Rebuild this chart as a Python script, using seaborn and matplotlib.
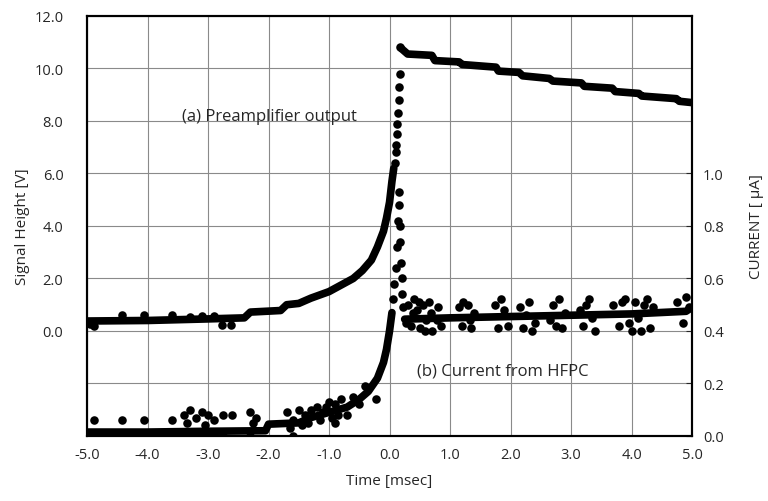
import matplotlib
matplotlib.use("Agg")
import matplotlib.pyplot as plt
import seaborn as sns

# (a) preamplifier output, left axis [V] - dense backbone of the trace
t_pre = [-5.0, -4.0, -3.0, -2.4, -2.3, -1.8, -1.7, -1.5, -1.3, -1.0, -0.8, -0.6,
         -0.45, -0.3, -0.2, -0.1, -0.05, 0.0, 0.04, 0.07]
v_pre = [0.38, 0.4, 0.46, 0.5, 0.72, 0.78, 1.0, 1.05, 1.25, 1.5, 1.75, 2.0,
         2.3, 2.7, 3.2, 3.8, 4.3, 4.9, 5.7, 6.2]
# sparse dots on the fast edge
t_pre_edge = [0.09, 0.10, 0.11, 0.12, 0.13, 0.14, 0.15, 0.16, 0.17, 0.18]
v_pre_edge = [6.4, 6.8, 7.1, 7.5, 7.9, 8.3, 8.8, 9.3, 9.8, 10.8]
# stepped decay after the peak
t_dec = [0.2, 0.3, 0.7, 0.75, 1.15, 1.2, 1.76, 1.8, 2.14, 2.2, 2.64, 2.7,
         3.17, 3.22, 3.68, 3.73, 4.12, 4.17, 4.74, 4.79, 5.0]
v_dec = [10.75, 10.55, 10.5, 10.3, 10.25, 10.15, 10.05, 9.9, 9.85, 9.72, 9.62, 9.52,
         9.45, 9.32, 9.25, 9.12, 9.05, 8.95, 8.85, 8.75, 8.7]
t_pre_out = [-4.42, -4.06, -3.6, -2.77, -2.62, -4.95, -4.88, -3.3, -3.1, -2.9]
v_pre_out = [0.62, 0.62, 0.62, 0.22, 0.22, 0.25, 0.2, 0.55, 0.58, 0.56]

# (b) current from HFPC, right axis [uA]
t_cur = [-5.0, -4.0, -3.0, -2.05, -2.0, -1.5, -1.3, -1.0, -0.7, -0.5, -0.35,
         -0.2, -0.1, -0.05, 0.0, 0.04]
i_cur = [0.015, 0.015, 0.018, 0.02, 0.045, 0.05, 0.07, 0.09, 0.11, 0.14, 0.17,
         0.22, 0.28, 0.33, 0.40, 0.47]
t_spike = [0.06, 0.08, 0.10, 0.12, 0.14, 0.15, 0.16, 0.17, 0.18, 0.19, 0.20, 0.21, 0.22]
i_spike = [0.52, 0.58, 0.64, 0.72, 0.82, 0.93, 0.88, 0.80, 0.74, 0.66, 0.60, 0.54, 0.49]
t_band = [0.25, 1.0, 2.0, 3.0, 4.0, 4.9, 5.0]
i_band = [0.445, 0.45, 0.455, 0.46, 0.465, 0.475, 0.49]
t_noise = [0.3, 0.35, 0.4, 0.45, 0.5, 0.55, 0.6, 0.65, 0.7, 0.8, 0.85,
           0.28, 0.38, 0.48, 0.58, 0.68, 0.78,
           1.15, 1.2, 1.3, 1.35, 1.4, 1.22, 1.33,
           1.75, 1.8, 1.9, 1.95, 1.85,
           2.15, 2.2, 2.3, 2.4, 2.25, 2.35,
           2.65, 2.7, 2.8, 2.85, 2.9, 2.75,
           3.15, 3.2, 3.3, 3.4, 3.25, 3.35,
           3.7, 3.8, 3.9, 4.0, 4.05, 4.1, 4.2, 4.3, 4.35, 3.85, 3.95, 4.15, 4.25,
           4.75, 4.85, 4.95, 4.9]
i_noise = [0.50, 0.42, 0.52, 0.48, 0.41, 0.50, 0.44, 0.51, 0.40, 0.49, 0.42,
           0.43, 0.47, 0.51, 0.40, 0.47, 0.44,
           0.49, 0.42, 0.50, 0.41, 0.47, 0.51, 0.44,
           0.50, 0.41, 0.48, 0.42, 0.52,
           0.49, 0.41, 0.51, 0.43, 0.46, 0.40,
           0.44, 0.50, 0.52, 0.41, 0.47, 0.42,
           0.48, 0.42, 0.52, 0.40, 0.50, 0.45,
           0.50, 0.42, 0.52, 0.40, 0.51, 0.45, 0.50, 0.41, 0.49, 0.51, 0.43, 0.40, 0.52,
           0.51, 0.43, 0.49, 0.53]
t_base_noise = [-4.88, -4.42, -4.06, -3.6, -3.4, -3.3, -3.2, -3.1, -3.0, -2.9, -2.75,
                -2.6, -2.3, -2.2, -1.7, -1.6, -1.5, -1.4, -1.2, -1.1, -1.0, -0.9,
                -0.8, -0.7, -0.9, -0.22, -3.2, -2.75, -2.3, -1.6, -4.95,
                -3.35, -3.05, -2.25, -1.65, -1.45, -1.3, -1.15, -0.95, -0.85,
                -0.6, -0.5, -0.4, -1.35, -1.05]
i_base_noise = [0.06, 0.06, 0.06, 0.06, 0.08, 0.10, 0.07, 0.09, 0.08, 0.06, 0.08,
                0.08, 0.09, 0.07, 0.09, 0.06, 0.10, 0.08, 0.11, 0.09, 0.13, 0.12,
                0.14, 0.08, 0.05, 0.14, 0.0, 0.0, 0.0, 0.0, 0.0,
                0.05, 0.04, 0.05, 0.03, 0.04, 0.10, 0.06, 0.07, 0.08,
                0.15, 0.12, 0.19, 0.05, 0.11]

sns.set_style("white")
plt.rcParams["font.family"] = ["Open Sans", "DejaVu Sans"]

fig = plt.figure(figsize=(7.68, 5.02), dpi=100)
ax = fig.add_axes([0.1133, 0.1295, 0.7878, 0.8367])
ax2 = ax.twinx()

lw = 5.5
ms = 38
sns.lineplot(x=t_pre, y=v_pre, ax=ax, color="black", lw=lw, sort=False,
             solid_capstyle="round")
sns.lineplot(x=t_dec, y=v_dec, ax=ax, color="black", lw=lw, sort=False,
             solid_capstyle="round")
sns.scatterplot(x=t_pre_edge + t_pre_out, y=v_pre_edge + v_pre_out, ax=ax,
                color="black", s=ms, linewidth=0)

sns.lineplot(x=t_cur, y=i_cur, ax=ax2, color="black", lw=lw, sort=False,
             solid_capstyle="round")
sns.lineplot(x=t_band, y=i_band, ax=ax2, color="black", lw=lw, sort=False,
             solid_capstyle="round")
sns.scatterplot(x=t_spike + t_noise + t_base_noise, y=i_spike + i_noise + i_base_noise,
                ax=ax2, color="black", s=ms, linewidth=0)

ax.set_xlim(-5, 5)
ax.set_ylim(-4, 12)
ax2.set_ylim(0, 1.6)

ax.set_xticks([-5, -4, -3, -2, -1, 0, 1, 2, 3, 4, 5])
ax.set_xticklabels([f"{v:.1f}" for v in range(-5, 6)])
ax.set_yticks([-4, -2, 0, 2, 4, 6, 8, 10, 12])
ax.set_yticklabels(["", ""] + [f"{v:.1f}" for v in range(0, 13, 2)])
ax2.set_yticks([0, 0.2, 0.4, 0.6, 0.8, 1.0])
ax2.set_yticklabels(["0.0", "0.2", "0.4", "0.6", "0.8", "1.0"])

ax.grid(True, color="#8a8a8a", lw=0.8)
ax2.grid(False)
for a in (ax, ax2):
    for s in a.spines.values():
        s.set_color("black")
        s.set_linewidth(1.5)
ax.tick_params(axis="x", direction="in", length=0, labelsize=10.5, pad=8)
ax.tick_params(axis="y", direction="in", length=0, labelsize=10.5, pad=17)
ax2.tick_params(axis="y", direction="in", length=4, labelsize=10.5, pad=8)

ax.set_xlabel("Time [msec]", fontsize=11, labelpad=8)
ax.set_ylabel("Signal Height [V]", fontsize=11, labelpad=3)
ax2.set_ylabel("CURRENT [ μA]", fontsize=11, labelpad=18)

ax.text(-3.43, 8.2, "(a) Preamplifier output", fontsize=12, va="center", ha="left")
ax.text(0.45, -1.5, "(b) Current from HFPC", fontsize=12, va="center", ha="left")

fig.savefig("out.png", dpi=100)
